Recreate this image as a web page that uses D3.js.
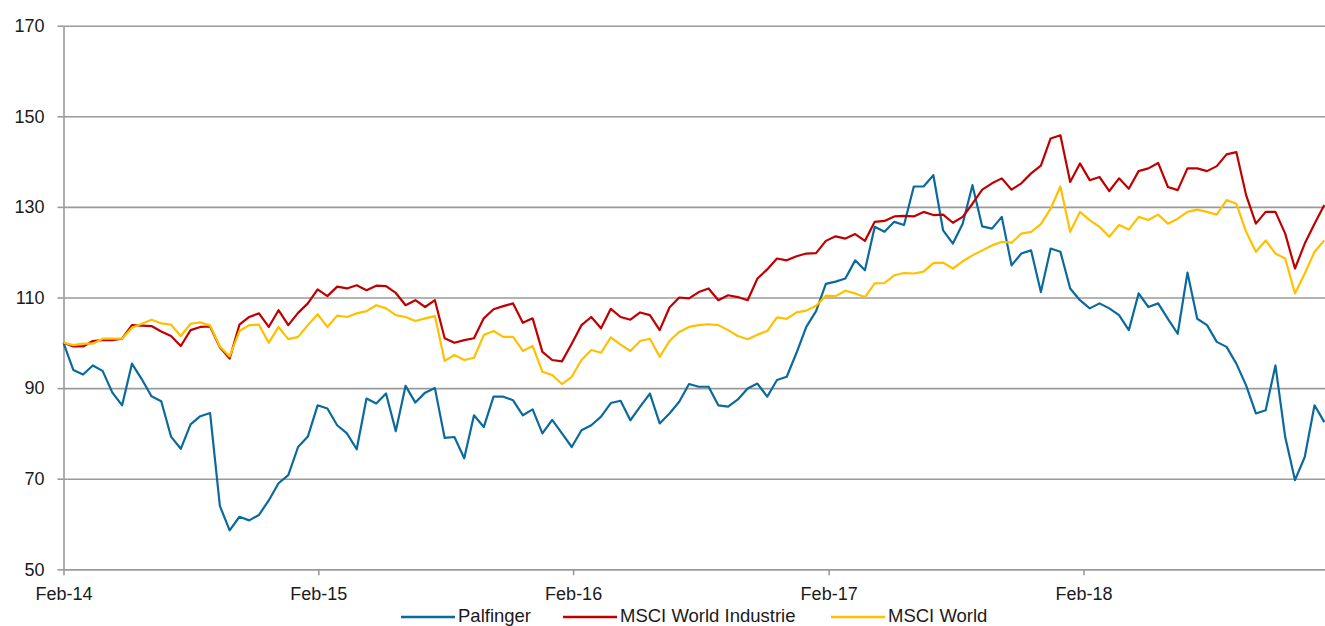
<!DOCTYPE html>
<html>
<head>
<meta charset="utf-8">
<script src="https://cdn.jsdelivr.net/npm/d3@7"></script>
<style>
    body { margin: 0; background: #fff; }
    svg text { font-family: "Liberation Sans", Arial, sans-serif; fill: #1a1a1a; }
</style>
</head>
<body>
<svg id="chart" width="1325" height="626"></svg>
<script>
//
// Data (indexed to 100, one value every two weeks from Feb 2014)
//
var seriesNames = ["Palfinger", "MSCI World Industrie", "MSCI World"];
var seriesColors = ["#0b6a9c", "#c00000", "#ffc000"];

var palfinger = [
    100, 94, 93, 95, 93.8, 89, 86.2, 95.4, 92, 88.2,
    87.1, 79.3, 76.6, 82, 83.8, 84.5, 64, 58.6, 61.6, 60.8,
    62, 65.2, 69, 70.8, 77, 79.3, 86.2, 85.5, 81.8, 80,
    76.5, 87.7, 86.6, 88.8, 80.5, 90.5, 86.8, 89, 90, 79,
    79.2, 74.5, 84, 81.4, 88.1, 88.1, 87.3, 84, 85.3, 80,
    83, 80, 77, 80.7, 81.8, 83.7, 86.7, 87.2, 82.9, 85.9,
    88.8, 82.2, 84.4, 87, 90.9, 90.3, 90.3, 86.2, 85.9, 87.5,
    89.9, 91, 88.1, 91.8, 92.5, 97.8, 103.5, 107, 113, 113.5,
    114.2, 118.2, 116, 125.6, 124.5, 126.7, 126, 134.5, 134.5, 137,
    124.8, 121.9, 126.3, 134.8, 125.7, 125.2, 127.8, 117.1, 119.7, 120.4,
    111.2, 120.8, 120.1, 112, 109.4, 107.6, 108.7, 107.6, 106.1, 102.8,
    110.9, 107.9, 108.7, 105.3, 102, 115.5, 105.3, 103.9, 100.2, 99.1,
    95.4, 90.6, 84.4, 85.1, 95, 79.2, 69.7, 74.8, 86.2, 82.5
];

var msciIndustrie = [
    100, 99.2, 99.2, 100.4, 100.6, 100.6, 100.9, 103.9, 103.8, 103.7,
    102.5, 101.5, 99.3, 102.8, 103.5, 103.6, 99, 96.5, 104, 105.7,
    106.5, 103.5, 107.2, 103.9, 106.6, 108.7, 111.8, 110.3, 112.4, 112,
    112.7, 111.6, 112.6, 112.5, 111, 108.3, 109.4, 107.9, 109.4, 101,
    100, 100.6, 101, 105.4, 107.4, 108.1, 108.7, 104.4, 105.4, 98,
    96.2, 95.9, 99.8, 103.9, 105.7, 103.2, 107.5, 105.7, 105.1, 106.7,
    106.1, 102.8, 107.8, 110, 109.8, 111.2, 112, 109.4, 110.5, 110.1,
    109.4, 114.2, 116.2, 118.6, 118.2, 119.1, 119.7, 119.8, 122.5, 123.5,
    123, 124, 122.5, 126.7, 126.9, 127.9, 128, 127.9, 128.9, 128.2,
    128.3, 126.5, 127.8, 130.7, 133.8, 135.2, 136.3, 133.8, 135.2, 137.4,
    139.1, 145.1, 145.8, 135.5, 139.6, 135.9, 136.6, 133.5, 136.3, 134,
    137.9, 138.5, 139.7, 134.4, 133.7, 138.5, 138.5, 137.9, 139, 141.6,
    142.1, 132.6, 126.3, 128.9, 128.9, 124.1, 116.4, 121.9, 126.3, 130.4
];

var msciWorld = [
    100, 99.5, 99.8, 99.8, 100.9, 100.9, 100.9, 103.3, 104.2, 105.1,
    104.3, 104, 101.5, 104.2, 104.5, 103.8, 99.2, 97, 102.6, 103.9,
    104, 100, 103.5, 100.8, 101.3, 103.9, 106.3, 103.5, 106, 105.7,
    106.5, 107, 108.3, 107.6, 106.1, 105.7, 104.8, 105.4, 105.9, 96,
    97.3, 96.2, 96.7, 101.7, 102.6, 101.3, 101.3, 98.2, 99.3, 93.6,
    92.9, 90.9, 92.5, 96.2, 98.4, 97.8, 101.2, 99.6, 98.2, 100.4,
    100.9, 96.9, 100.4, 102.4, 103.5, 103.9, 104.1, 103.9, 102.8, 101.5,
    100.8, 101.8, 102.6, 105.6, 105.3, 106.7, 107.1, 108.2, 110.4, 110.3,
    111.5, 110.9, 110.1, 113.1, 113.2, 114.9, 115.4, 115.3, 115.7, 117.6,
    117.7, 116.4, 118, 119.3, 120.4, 121.5, 122.3, 122.1, 124.1, 124.5,
    126.2, 129.6, 134.5, 124.5, 128.9, 127.1, 125.6, 123.4, 126, 125,
    127.8, 127.1, 128.3, 126.3, 127.4, 128.9, 129.4, 128.9, 128.3, 131.5,
    130.7, 124.5, 120.1, 122.6, 119.7, 118.6, 110.9, 115.3, 120.1, 122.6
];

var yTicks = [50, 70, 90, 110, 130, 150, 170];
var xTickLabels = ["Feb-14", "Feb-15", "Feb-16", "Feb-17", "Feb-18"];

var startDate = new Date(2014, 1, 1);
var dates = palfinger.map(function(d, i) { return d3.timeDay.offset(startDate, 14 * i); });
var xTicks = xTickLabels.map(function(s) { return d3.timeParse("%b-%y")(s); });

//
// Layout
//
var plotLeft = 63.5, plotRight = 1325, plotTop = 25.7, plotBottom = 569.3;
var gridColor = "#9a9a9a";

var svg = d3.select("#chart");

var x = d3.scaleTime()
    .domain([startDate, new Date(2019, 0, 13)])
    .range([plotLeft, plotRight]);
var y = d3.scaleLinear()
    .domain([50, 170])
    .range([plotBottom, plotTop]);

// horizontal grid
var grid = svg.append("g")
    .attr("transform", "translate(" + plotLeft + ",0)")
    .call(d3.axisLeft(y).tickValues(yTicks).tickSize(-(plotRight - plotLeft)).tickFormat(""));
grid.select(".domain").remove();
grid.selectAll("line").attr("stroke", gridColor).attr("stroke-width", 1.6);

// y axis
var yAxis = svg.append("g")
    .attr("transform", "translate(" + plotLeft + ",0)")
    .call(d3.axisLeft(y).tickValues(yTicks).tickSize(6).tickSizeOuter(0).tickPadding(13));
yAxis.select(".domain").attr("stroke", gridColor).attr("stroke-width", 1.6);
yAxis.selectAll("line").attr("stroke", gridColor).attr("stroke-width", 1.6);
yAxis.selectAll("text").style("font-size", "18px").attr("fill", "#1a1a1a");

// x axis
var xAxis = svg.append("g")
    .attr("transform", "translate(0," + plotBottom + ")")
    .call(d3.axisBottom(x).tickValues(xTicks).tickFormat(d3.timeFormat("%b-%y"))
        .tickSize(6).tickSizeOuter(0).tickPadding(12));
xAxis.select(".domain").attr("stroke", gridColor).attr("stroke-width", 1.6);
xAxis.selectAll("line").attr("stroke", gridColor).attr("stroke-width", 1.6);
xAxis.selectAll("text").style("font-size", "18px").attr("fill", "#1a1a1a");

// lines
var line = d3.line()
    .x(function(d, i) { return x(dates[i]); })
    .y(function(d) { return y(d); });

[palfinger, msciIndustrie, msciWorld].forEach(function(values, k) {
    svg.append("path")
        .datum(values)
        .attr("fill", "none")
        .attr("stroke", seriesColors[k])
        .attr("stroke-width", 2.2)
        .attr("stroke-linejoin", "round")
        .attr("d", line);
});

// legend
var legendX = [401, 563, 831];
var legend = svg.append("g");
seriesNames.forEach(function(name, k) {
    legend.append("line")
        .attr("x1", legendX[k]).attr("x2", legendX[k] + 54)
        .attr("y1", 617).attr("y2", 617)
        .attr("stroke", seriesColors[k])
        .attr("stroke-width", 2.6);
    legend.append("text")
        .attr("x", legendX[k] + 57)
        .attr("y", 622)
        .style("font-size", "18.5px")
        .text(name);
});
</script>
</body>
</html>
